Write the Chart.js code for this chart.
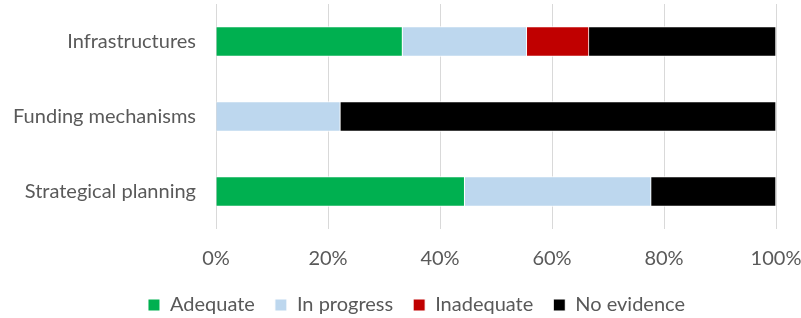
<!DOCTYPE html>
<html>
<head>
<meta charset="utf-8">
<script src="https://cdn.jsdelivr.net/npm/chart.js@4/dist/chart.umd.min.js"></script>
<style>
  html, body { margin: 0; padding: 0; background: #fff; }
  #wrap { width: 801px; height: 318px; position: relative; }
</style>
</head>
<body>
<div id="wrap"><canvas id="chart"></canvas></div>
<script>
const categories = ["Infrastructures", "Funding mechanisms", "Strategical planning"];

const adequate = [33.3, 0, 44.4];
const inProgress = [22.2, 22.2, 33.3];
const inadequate = [11.1, 0, 0];
const noEvidence = [33.4, 77.8, 22.3];

const xTicks = [0, 20, 40, 60, 80, 100];

const textColor = "#595959";
const fontFamily = "Lato, 'Open Sans', sans-serif";

function series(label, data, color) {
  return {
    label,
    data,
    backgroundColor: color,
    borderColor: "#ffffff",
    borderWidth: 1,
    barThickness: 30
  };
}

// the legend in the original sits a bit right of centre
const legendShift = {
  id: "legendShift",
  afterLayout(chart) {
    if (chart.legend) {
      chart.legend.left += 16;
      chart.legend.right += 16;
    }
  }
};

new Chart(document.getElementById("chart"), {
  type: "bar",
  data: {
    labels: categories,
    datasets: [
      series("Adequate", adequate, "#00b050"),
      series("In progress", inProgress, "#bdd7ee"),
      series("Inadequate", inadequate, "#c00000"),
      series("No evidence", noEvidence, "#000000")
    ]
  },
  plugins: [legendShift],
  options: {
    indexAxis: "y",
    responsive: true,
    maintainAspectRatio: false,
    animation: false,
    layout: { padding: { top: 4, right: 0, left: 0, bottom: -7 } },
    plugins: {
      legend: {
        position: "bottom",
        labels: {
          boxWidth: 12,
          boxHeight: 12,
          padding: 20,
          color: textColor,
          font: { family: fontFamily, size: 20 }
        }
      },
      tooltip: { enabled: false }
    },
    scales: {
      x: {
        stacked: true,
        min: 0,
        max: 100,
        afterBuildTicks: axis => {
          axis.ticks = xTicks.map(v => ({ value: v }));
        },
        afterFit: axis => {
          axis.height = 46;
          axis.paddingLeft = 0;
          axis.paddingRight = 25;
        },
        grid: { color: "#d9d9d9", lineWidth: 1, drawTicks: false },
        border: { display: false },
        ticks: {
          padding: 18,
          color: textColor,
          font: { family: fontFamily, size: 20 },
          callback: v => v + "%"
        }
      },
      y: {
        stacked: true,
        grid: { display: false },
        border: { display: false },
        afterFit: axis => {
          axis.width = 216;
          axis.paddingTop = 0;
          axis.paddingBottom = 0;
        },
        ticks: {
          padding: 12,
          color: textColor,
          font: { family: fontFamily, size: 20 }
        }
      }
    }
  }
});
</script>
</body>
</html>
